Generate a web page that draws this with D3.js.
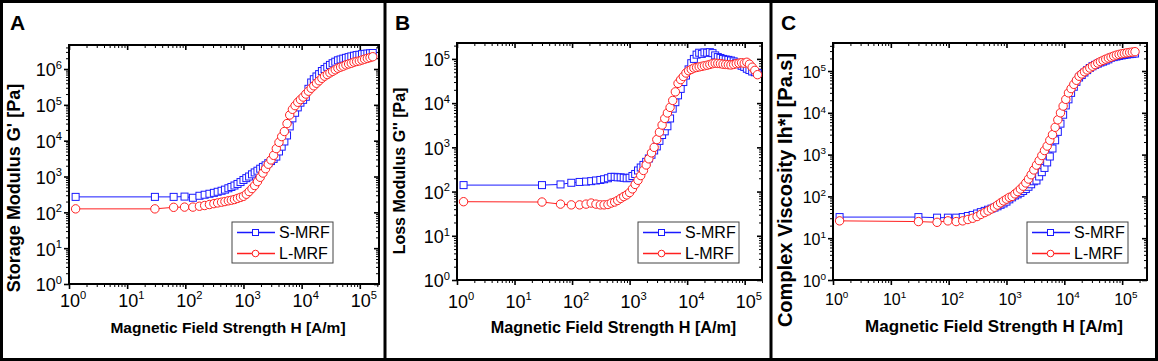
<!DOCTYPE html>
<html>
<head>
<meta charset="utf-8">
<script src="https://cdn.jsdelivr.net/npm/d3@7"></script>
<style>
  body { margin: 0; background: #fff; }
  svg { display: block; font-family: Arial, "Liberation Sans", sans-serif; }
</style>
</head>
<body>
<svg id="fig" width="1158" height="361"></svg>
<script>
// field sweep, shared by every curve [A/m]
const fieldH = [1.3, 30, 63, 97, 135, 175, 215, 260, 310, 360, 420, 480, 550, 620, 700, 790, 890, 1000,
  1120, 1250, 1400, 1560, 1740, 1940, 2160, 2400, 2670, 2970, 3300, 3670, 4080, 4540, 5050, 5610, 6240,
  6940, 7720, 8580, 9540, 10600, 11800, 13100, 14600, 16200, 18000, 20000, 22300, 24800, 27600, 30700,
  34100, 37900, 42100, 46800, 52000, 57800, 64300, 71500, 79500, 88400, 98300, 109000, 121000, 135000,
  150000, 167000];

// A: storage modulus G' [Pa]
const storageS = [270, 270, 270, 275, 255, 290, 310, 330, 350, 375, 400, 430, 470, 510, 560, 620, 700, 800,
  900, 1000, 1150, 1300, 1450, 1650, 1850, 2050, 2350, 2700, 3100, 3600, 5000, 6800, 9500, 14000, 25000,
  42000, 60000, 85000, 115000, 138000, 168000, 280000, 420000, 520000, 620000, 720000, 880000, 1000000,
  1150000, 1300000, 1450000, 1600000, 1750000, 1850000, 1950000, 2050000, 2150000, 2250000, 2350000,
  2450000, 2500000, 2600000, 2650000, 2700000, 2750000, 2800000];
const storageL = [125, 125, 138, 140, 140, 148, 155, 165, 175, 183, 192, 200, 210, 218, 228, 245, 262, 280,
  320, 380, 460, 560, 720, 950, 1250, 1650, 2200, 2900, 3900, 6000, 9000, 13000, 18000, 30000, 52000,
  75000, 95000, 118000, 140000, 165000, 200000, 240000, 290000, 340000, 400000, 470000, 550000, 630000,
  700000, 780000, 860000, 950000, 1050000, 1130000, 1200000, 1300000, 1380000, 1450000, 1550000, 1620000,
  1680000, 1780000, 1880000, 1980000, 2080000, 2200000];

// B: loss modulus G'' [Pa]
const lossS = [140, 140, 145, 158, 165, 168, 172, 178, 183, 190, 200, 215, 215, 210, 210, 205, 200, 205,
  225, 250, 300, 350, 400, 470, 560, 680, 850, 1050, 1400, 1900, 2300, 3000, 4500, 7500, 10500, 15000,
  21000, 30000, 42000, 58000, 80000, 100000, 125000, 138000, 130000, 140000, 138000, 142000, 135000,
  120000, 110000, 105000, 100000, 97000, 95000, 92000, 88000, 82000, 76000, 70000, 66000, 60000, 56000,
  52000, 50000, 48000];
const lossL = [59, 58, 52, 50, 50, 52, 55, 52, 50, 50, 51, 55, 58, 63, 70, 77, 84, 95, 115, 145, 180, 230,
  300, 400, 550, 750, 1000, 1500, 2200, 3200, 4500, 6000, 8000, 11500, 18000, 28000, 34000, 40000, 48000,
  54000, 58000, 62000, 64000, 66000, 68000, 70000, 72000, 75000, 78000, 80000, 79000, 78000, 76000, 75000,
  74000, 73000, 75000, 78000, 80000, 82000, 80000, 84000, 76000, 65000, 55000, 44000];

// C: complex viscosity [Pa.s]
const viscS = [32, 32, 31, 31, 31, 32, 34, 36, 39, 42, 45, 48, 51, 54, 58, 63, 68, 75, 85, 95, 105, 112,
  122, 135, 150, 170, 195, 230, 240, 300, 380, 480, 650, 900, 1400, 2200, 3500, 5500, 9000, 15000, 21000,
  30000, 42000, 55000, 70000, 80000, 92000, 105000, 118000, 130000, 140000, 150000, 160000, 168000,
  178000, 190000, 208000, 215000, 222000, 230000, 236000, 242000, 248000, 253000, 258000, 262000];
const viscL = [26, 25, 24, 26, 25, 26, 28, 30, 33, 37, 41, 45, 50, 55, 62, 70, 78, 86, 95, 100, 115, 130,
  150, 175, 210, 260, 330, 430, 560, 720, 950, 1250, 1600, 2200, 3000, 4500, 6800, 10000, 14500, 21000,
  30000, 38000, 48000, 60000, 75000, 85000, 96000, 106000, 118000, 130000, 142000, 155000, 168000, 180000,
  192000, 204000, 215000, 228000, 240000, 250000, 258000, 265000, 272000, 278000, 284000, 290000];

const seriesNames = ["S-MRF", "L-MRF"];
const panelLetters = ["A", "B", "C"];
const yTitles = ["Storage Modulus G' [Pa]", "Loss Modulus G'' [Pa]", "Complex Viscosity Ih*I [Pa.s]"];
const xTitle = "Magnetic Field Strength H [A/m]";

const colors = ["#1a1aff", "#ff2020"];

// layout of the three panels
const panels = [
  { sx: [storageS, storageL], box: [69, 379, 45, 284], xMax: 2.14e5, yMax: 4.68e6,
    tickFs: 18, xtFs: 15.5, ytFs: 18, ytY: 188, ytX: 20, xtY: 333, tlY: 307, lx: 232, sep: 0 },
  { sx: [lossS, lossL], box: [457, 762, 43, 280], xMax: 2.0e5, yMax: 2.29e5,
    tickFs: 18, xtFs: 16.2, ytFs: 16, ytY: 171, ytX: 405, xtY: 333, tlY: 308, lx: 638, sep: 385 },
  { sx: [viscS, viscL], box: [833, 1147, 43, 280], xMax: 2.69e5, yMax: 4.68e5,
    tickFs: 16, xtFs: 17, ytFs: 20, ytY: 190, ytX: 792, xtY: 332, tlY: 305, lx: 1027, sep: 771 }
];

const svg = d3.select("#fig");

// outer frame and separators
svg.append("rect").attr("x", 1.5).attr("y", 1.5).attr("width", 1155).attr("height", 358)
  .attr("fill", "none").attr("stroke", "#000").attr("stroke-width", 3);
panels.forEach(p => {
  if (p.sep) svg.append("line").attr("x1", p.sep).attr("x2", p.sep).attr("y1", 0).attr("y2", 361)
    .attr("stroke", "#000").attr("stroke-width", 3);
});

function supLabel(sel, fs) {
  sel.each(function (d) {
    const t = d3.select(this).text(null);
    t.append("tspan").text("10");
    t.append("tspan").attr("dy", -fs * 0.42).attr("font-size", fs * 0.62).text(Math.round(Math.log10(d)));
  });
}

panels.forEach((p, i) => {
  const [x0, x1, y0, y1] = p.box;
  const x = d3.scaleLog().domain([1, p.xMax]).range([x0, x1]);
  const y = d3.scaleLog().domain([1, p.yMax]).range([y1, y0]);
  const g = svg.append("g");

  const xAll = x.ticks().filter(v => v >= 1 && v <= p.xMax);
  const yAll = y.ticks().filter(v => v >= 1 && v <= p.yMax);
  const isMajor = v => Math.abs(Math.log10(v) - Math.round(Math.log10(v))) < 1e-9;
  const xMaj = xAll.filter(isMajor), xMin = xAll.filter(v => !isMajor(v));
  const yMaj = yAll.filter(isMajor), yMin = yAll.filter(v => !isMajor(v));

  const axes = [
    // bottom (outward), top (inward), left (outward), right (inward)
    [d3.axisBottom(x), `translate(0,${y1})`, xMaj, xMin, true],
    [d3.axisBottom(x), `translate(0,${y0})`, xMaj, xMin, false],
    [d3.axisLeft(y), `translate(${x0},0)`, yMaj, yMin, true],
    [d3.axisLeft(y), `translate(${x1},0)`, yMaj, yMin, false]
  ];
  axes.forEach(([ax, tr, maj, min, labelled], k) => {
    const gm = g.append("g").attr("transform", tr)
      .call(ax.tickValues(min).tickSize(3).tickFormat(""));
    gm.select(".domain").remove();
    gm.selectAll(".tick line").attr("stroke", "#000").attr("stroke-width", 1);
    const gM = g.append("g").attr("transform", tr)
      .call(ax.tickValues(maj).tickSize(5).tickFormat(d => d));
    gM.select(".domain").remove();
    gM.selectAll(".tick line").attr("stroke", "#000").attr("stroke-width", 1.6);
    const txt = gM.selectAll(".tick text");
    if (!labelled) { txt.remove(); return; }
    txt.attr("font-size", p.tickFs).attr("fill", "#000");
    if (k === 0) {
      txt.attr("y", null).attr("dy", null).attr("transform", `translate(0,${p.tlY - y1})`)
        .attr("text-anchor", "middle").attr("dx", p.tickFs * 0.2);
    } else {
      txt.attr("x", -7).attr("dy", p.tickFs * 0.38).attr("text-anchor", "end");
    }
    supLabel(txt, p.tickFs);
  });

  g.append("rect").attr("x", x0).attr("y", y0).attr("width", x1 - x0).attr("height", y1 - y0)
    .attr("fill", "none").attr("stroke", "#000").attr("stroke-width", 2);

  // curves
  const clip = `clip${i}`;
  svg.append("clipPath").attr("id", clip).append("rect")
    .attr("x", x0).attr("y", y0).attr("width", x1 - x0).attr("height", y1 - y0);
  const plot = g.append("g").attr("clip-path", `url(#${clip})`);
  p.sx.forEach((vals, s) => {
    const pts = fieldH.map((h, j) => [h, vals[j]]);
    plot.append("path").datum(pts)
      .attr("d", d3.line().x(d => x(d[0])).y(d => y(d[1])))
      .attr("fill", "none").attr("stroke", colors[s]).attr("stroke-width", 1);
    if (s === 0) {
      plot.selectAll(null).data(pts).join("rect")
        .attr("x", d => x(d[0]) - 3.5).attr("y", d => y(d[1]) - 3.5)
        .attr("width", 7).attr("height", 7)
        .attr("fill", "#fff").attr("stroke", colors[s]).attr("stroke-width", 1);
    } else {
      plot.selectAll(null).data(pts).join("circle")
        .attr("cx", d => x(d[0])).attr("cy", d => y(d[1])).attr("r", 4.2)
        .attr("fill", "#fff").attr("stroke", colors[s]).attr("stroke-width", 1);
    }
  });

  // legend
  const lg = g.append("g").attr("transform", `translate(${p.lx},222)`);
  lg.append("rect").attr("width", 101).attr("height", 41)
    .attr("fill", "#fff").attr("stroke", "#444").attr("stroke-width", 1);
  seriesNames.forEach((name, s) => {
    const cy = 10.5 + s * 21;
    lg.append("line").attr("x1", 5).attr("x2", 43).attr("y1", cy).attr("y2", cy)
      .attr("stroke", colors[s]).attr("stroke-width", 1.3);
    if (s === 0) {
      lg.append("rect").attr("x", 20.5).attr("y", cy - 3).attr("width", 6).attr("height", 6)
        .attr("fill", "#fff").attr("stroke", colors[s]);
    } else {
      lg.append("circle").attr("cx", 23.5).attr("cy", cy).attr("r", 3.3)
        .attr("fill", "#fff").attr("stroke", colors[s]);
    }
    lg.append("text").attr("x", 47).attr("y", cy + 5.8).attr("font-size", 16).text(name);
  });

  // titles
  svg.append("text").attr("x", (x0 + x1) / 2 + 4).attr("y", p.xtY)
    .attr("text-anchor", "middle").attr("font-weight", "bold").attr("font-size", p.xtFs)
    .text(xTitle);
  svg.append("text").attr("transform", `translate(${p.ytX},${p.ytY}) rotate(-90)`)
    .attr("text-anchor", "middle").attr("font-weight", "bold").attr("font-size", p.ytFs)
    .text(yTitles[i]);
  svg.append("text").attr("x", p.sep + 10).attr("y", 30)
    .attr("font-weight", "bold").attr("font-size", 21).text(panelLetters[i]);
});
</script>
</body>
</html>
